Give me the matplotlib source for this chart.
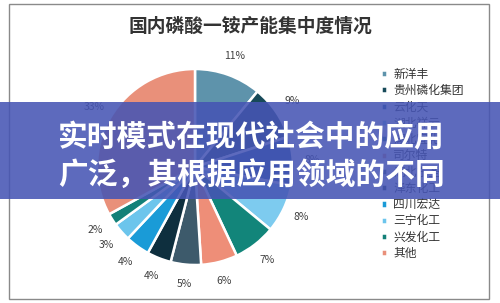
import matplotlib
matplotlib.use("Agg")
import matplotlib.pyplot as plt
from matplotlib.patches import Rectangle

plt.rcParams['font.family'] = ['Noto Sans CJK SC', 'DejaVu Sans']

title = "国内磷酸一铵产能集中度情况"
companies = ["新洋丰", "贵州磷化集团", "云化天", "湖北祥云", "湖北宜化", "司尔特",
             "湖北东圣", "泽东化工", "四川宏达", "三宁化工", "兴发化工", "其他"]
shares = [11, 9, 8, 8, 7, 6, 5, 4, 4, 3, 2, 33]
colors = ["#5E93AB", "#174A59", "#1C5D99", "#7DCBEF", "#12857A", "#EE8E78",
          "#3D5A6B", "#0E2F3E", "#1A9BD7", "#6CC5EC", "#138078", "#E9907A"]
banner_lines = ["实时模式在现代社会中的应用", "广泛，其根据应用领域的不同"]

W, H = 500, 303
fig = plt.figure(figsize=(W / 100, H / 100), dpi=100)
fig.patch.set_facecolor("white")

# chart frame
fig.patches.append(Rectangle((9 / W, 1 - 299 / H), 480 / W, 295 / H,
                             transform=fig.transFigure, fill=False,
                             edgecolor="#8a8a8a", linewidth=1, zorder=1))

fig.text(250 / W, 1 - 26 / H, title, ha="center", va="center",
         fontsize=13.5, fontweight="bold", color="#333333")

cx, cy, R = 195, 167, 98
ax = fig.add_axes([(cx - R) / W, 1 - (cy + R) / H, 2 * R / W, 2 * R / H])
wedges, texts, autotexts = ax.pie(
    shares, colors=colors, startangle=90, counterclock=False,
    autopct="%.0f%%", pctdistance=1.2,
    wedgeprops=dict(edgecolor="white", linewidth=1.8),
    textprops=dict(fontsize=7.5, color="#404040"))
ax.set_xlim(-1, 1)
ax.set_ylim(-1, 1)
ax.set_aspect("auto")

fig.legend(wedges, companies, loc="upper left",
           bbox_to_anchor=(376 / W, 1 - 63 / H), frameon=False,
           fontsize=8.5, handlelength=0.55, handleheight=0.55,
           handletextpad=0.5, labelspacing=0.28, borderaxespad=0,
           labelcolor="#333333")

# overlay banner
fig.patches.append(Rectangle((0, 1 - 199 / H), 1, 97 / H,
                             transform=fig.transFigure,
                             facecolor=(70 / 255, 85 / 255, 180 / 255),
                             alpha=0.88, edgecolor="none", zorder=10))
for i, line in enumerate(banner_lines):
    fig.text(58 / W, 1 - (137 + 38 * i) / H, line, ha="left", va="center",
             fontsize=21.4, fontweight="bold", color="white", zorder=11)

fig.savefig("out.png", dpi=100)
